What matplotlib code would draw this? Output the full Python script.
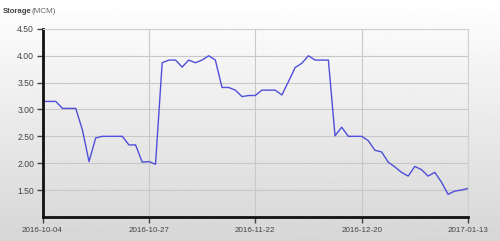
import numpy as np
import matplotlib
matplotlib.use("Agg")
import matplotlib.pyplot as plt

plt.rcParams['font.family'] = ['Liberation Sans', 'DejaVu Sans']

# storage readings, one per sample
storage = [3.15, 3.15, 3.15, 3.02, 3.02, 3.02, 2.62, 2.03, 2.47, 2.50,
           2.50, 2.50, 2.50, 2.34, 2.34, 2.02, 2.03, 1.98, 3.87, 3.92,
           3.92, 3.79, 3.92, 3.87, 3.92, 4.00, 3.92, 3.41, 3.41, 3.36,
           3.24, 3.26, 3.26, 3.36, 3.36, 3.36, 3.27, 3.52, 3.78, 3.86,
           4.00, 3.92, 3.92, 3.92, 2.51, 2.67, 2.50, 2.50, 2.50, 2.42,
           2.24, 2.21, 2.02, 1.93, 1.83, 1.76, 1.94, 1.88, 1.76, 1.83,
           1.65, 1.42, 1.48, 1.50, 1.53]
date_labels = ["2016-10-04", "2016-10-27", "2016-11-22", "2016-12-20", "2017-01-13"]
y_ticks = [1.5, 2.0, 2.5, 3.0, 3.5, 4.0, 4.5]

xs = np.arange(len(storage))
tick_pos = np.linspace(0, len(storage) - 1, len(date_labels))

fig = plt.figure(figsize=(5.0, 2.41), dpi=100)

# gradient background for the whole figure
bg = fig.add_axes([0, 0, 1, 1], zorder=-10)
grad = np.linspace(1.0, 0.84, 256).reshape(-1, 1)
bg.imshow(grad, cmap="gray", vmin=0, vmax=1, aspect="auto", extent=[0, 1, 0, 1])
bg.set_axis_off()

ax = fig.add_axes([0.085, 0.1, 0.851, 0.78])
ax.patch.set_alpha(0)
ax.plot(xs, storage, color="#4f4fd9", lw=1.0)

ax.set_xlim(0, len(storage) - 1)
ax.set_ylim(1.0, 4.5)
ax.set_xticks(tick_pos)
ax.set_xticklabels(date_labels)
ax.set_yticks(y_ticks)
ax.set_yticklabels(["%.2f" % v for v in y_ticks])

ax.grid(True, color="#c8c8c8", lw=0.8)
ax.set_axisbelow(True)
for side in ["top", "right"]:
    ax.spines[side].set_color("#d0d0d0")
    ax.spines[side].set_linewidth(0.8)
for side in ["left", "bottom"]:
    ax.spines[side].set_color("#111111")
    ax.spines[side].set_linewidth(2.0)
ax.tick_params(axis="both", colors="#444444", length=4, width=1)
ax.tick_params(axis="y", pad=2, labelsize=6.2)
ax.tick_params(axis="x", pad=3, labelsize=5.8)

fig.text(0.006, 0.952, "Storage", fontsize=5.6, fontweight="bold", color="#444444",
         ha="left", va="center")
fig.text(0.064, 0.952, "(MCM)", fontsize=5.8, color="#666666", ha="left", va="center")

fig.savefig("out.png", dpi=100)
